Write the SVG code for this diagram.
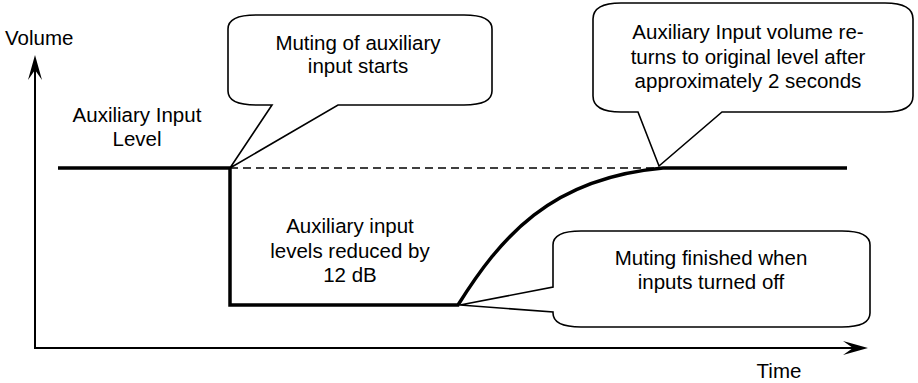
<svg xmlns="http://www.w3.org/2000/svg" width="918" height="383" viewBox="0 0 918 383">
<style>
text{font-family:"Liberation Sans",Arial,sans-serif;font-size:20.5px;fill:#000}
.c{text-anchor:middle}
.callout{fill:#fff;stroke:#000;stroke-width:1.6;stroke-linejoin:miter}
.axis{fill:none;stroke:#000;stroke-width:2}
.level{fill:none;stroke:#000;stroke-width:3.5;stroke-linejoin:miter}
.dash{fill:none;stroke:#000;stroke-width:1.5;stroke-dasharray:8 5}
</style>
<defs>
<marker id="arr" markerUnits="userSpaceOnUse" markerWidth="30" markerHeight="20" orient="auto" overflow="visible">
<path d="M15,0 L-10,-7 L0,0 L-10,7 Z" fill="#000"/>
</marker>
</defs>
<rect width="918" height="383" fill="#fff"/>
<g id="connectors">
<path class="axis" d="M35,348 V70" marker-end="url(#arr)"/>
<path class="axis" d="M34,348 H853" marker-end="url(#arr)"/>
<path class="dash" d="M230,168 H663"/>
<path class="level" d="M58,168 H230 V305 H458 C500,238 550,178 663,168 H847"/>
</g>
<g id="axis-labels">
<text x="5" y="45">Volume</text>
<text class="c" x="779" y="378">Time</text>
</g>
<g id="level-label">
<text class="c" x="137" y="122">Auxiliary Input</text>
<text class="c" x="137" y="146">Level</text>
</g>
<g id="reduced-label">
<text class="c" x="350" y="233">Auxiliary input</text>
<text class="c" x="350" y="257.5">levels reduced by</text>
<text class="c" x="350" y="282">12 dB</text>
</g>
<g id="callout-start">
<path class="callout" d="M256,15 H464 Q492,15 492,29 V91 Q492,105 464,105 H338 L230,168 L272,105 H256 Q228,105 228,91 V29 Q228,15 256,15 Z"/>
<text class="c" x="358" y="50">Muting of auxiliary</text>
<text class="c" x="358" y="73">input starts</text>
</g>
<g id="callout-return">
<path class="callout" d="M621,3 H885 Q913,3 913,19 V96 Q913,112 885,112 H722 L659,166 L638,112 H621 Q593,112 593,96 V19 Q593,3 621,3 Z"/>
<text class="c" x="748" y="39">Auxiliary Input volume re-</text>
<text class="c" x="748" y="63.5">turns to original level after</text>
<text class="c" x="748" y="88">approximately 2 seconds</text>
</g>
<g id="callout-finished">
<path class="callout" d="M581,231 H842 Q870,231 870,245 V313 Q870,327 842,327 H581 Q553,327 553,313 V312 L460,305 L553,287 V245 Q553,231 581,231 Z"/>
<text class="c" x="711" y="265">Muting finished when</text>
<text class="c" x="711" y="289">inputs turned off</text>
</g>
</svg>
